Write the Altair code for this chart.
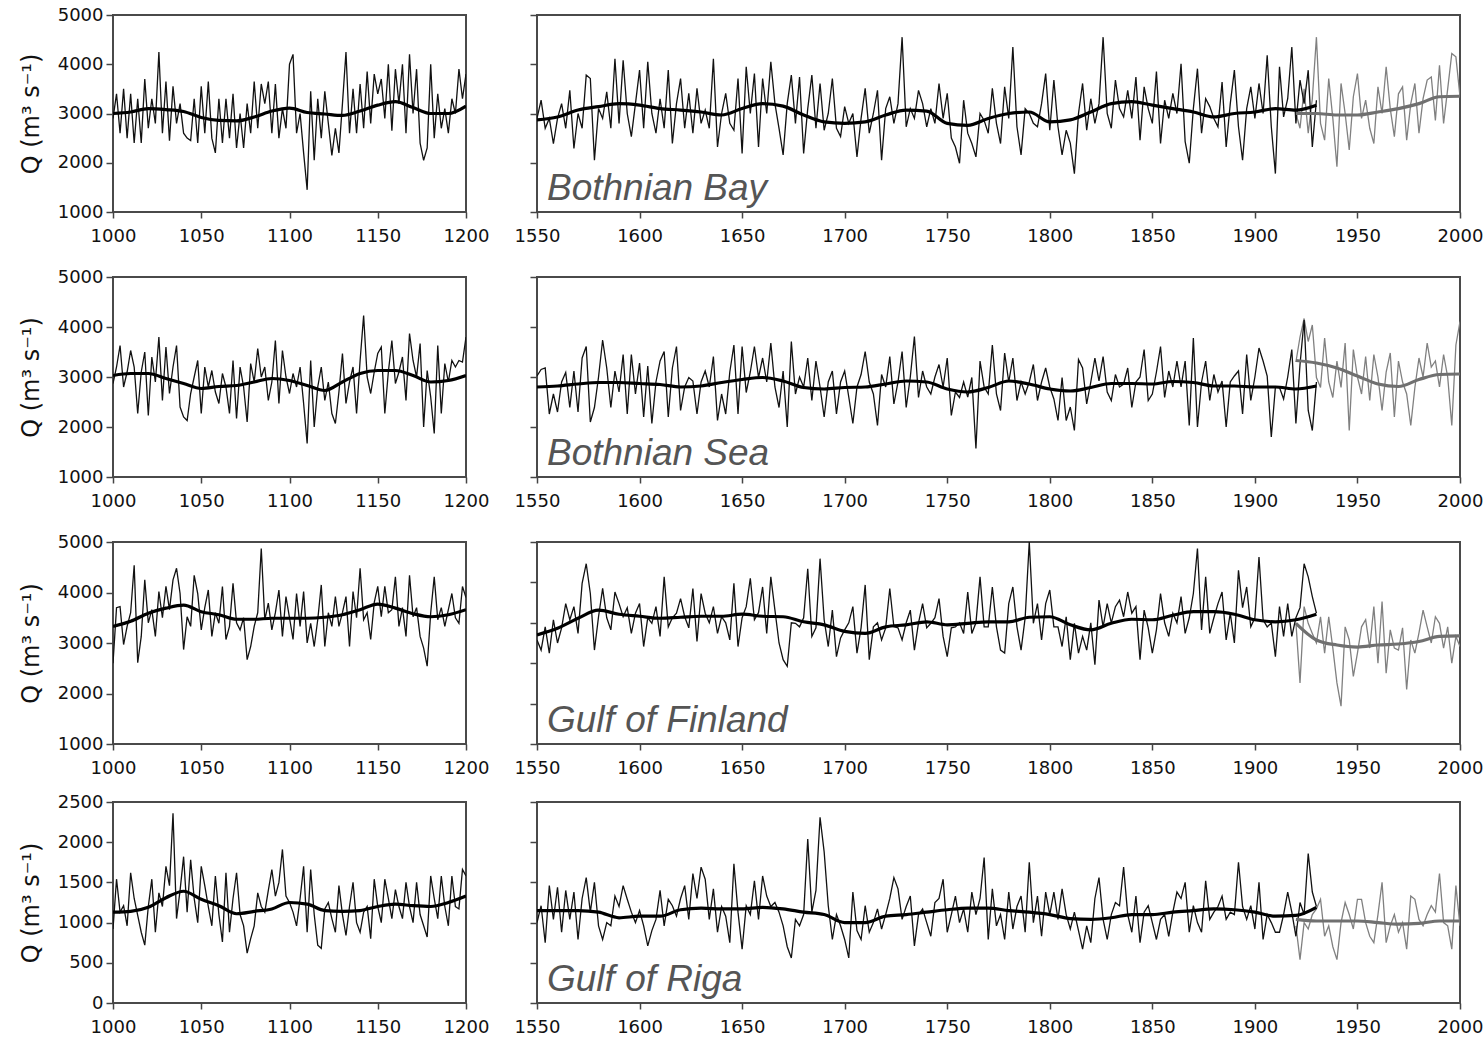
import altair as alt
import pandas as pd

FONT = "Liberation Sans"
AXFONT = "DejaVu Sans"

# ---------------- Bothnian Bay ----------------
BB_L = [2900, 3400, 2600, 3500, 2500, 3400, 2400, 3300, 2400, 3700,
        2700, 3300, 2800, 4250, 2600, 3650, 2450, 3550, 2800, 3200,
        2600, 2500, 2450, 3300, 2400, 3550, 2600, 3650, 2500, 2200,
        3300, 2400, 3300, 2500, 3400, 2300, 3000, 2300, 3200, 2600,
        3650, 2700, 3600, 3200, 3650, 2600, 3600, 2500, 3100, 2700,
        4000, 4200, 2600, 3000, 2200, 1450, 3450, 2050, 3300, 2500,
        3450, 2800, 2150, 2700, 2200, 3200, 4250, 2600, 3500, 2600,
        3600, 2700, 3850, 2800, 3800, 3400, 3700, 2900, 4000, 2650,
        3900, 3200, 4000, 2600, 4200, 3000, 3900, 2400, 2050, 2300,
        4000, 2500, 3400, 2700, 3100, 2600, 3300, 3000, 3900, 3300,
        3800]
BB_L_S = [3000, 3030, 3100, 3080, 3040, 2920, 2860, 2850, 2930, 3050, 3110,
          3020, 2990, 2960, 3050, 3170, 3240, 3120, 3000, 3000, 3150]
BB_R = [2900, 3270, 2700, 2900, 2390, 2900, 3200, 2700, 3470, 2290,
        3000, 2700, 3780, 3710, 2050, 3100, 2900, 3440, 2700, 4110,
        2800, 4080, 3000, 2530, 3200, 3880, 2700, 4050, 3000, 2600,
        3300, 2700, 3880, 2390, 3200, 3710, 2700, 3410, 2600, 3510,
        2800, 3070, 2700, 4110, 2320, 3000, 3410, 2800, 2660, 3710,
        2190, 3950, 3000, 3810, 2320, 3710, 3000, 4050, 3200, 2700,
        2160, 3200, 3780, 2800, 3740, 2190, 3100, 3780, 2700, 3610,
        2660, 3000, 3710, 2700, 2530, 3140, 2800, 3000, 2120, 2900,
        3510, 2600, 3000, 3470, 2050, 3100, 3340, 2800, 3200, 4550,
        2730, 3100, 2900, 3470, 3200, 2730, 3100, 2800, 3610, 2900,
        3410, 2500, 2320, 1990, 3270, 2600, 2390, 2120, 3000, 2860,
        2600, 3510, 2800, 2390, 3540, 2900, 4350, 2730, 2160, 3100,
        3000, 2800, 2730, 3200, 3810, 2660, 3680, 2730, 2160, 2660,
        2400, 1780, 3000, 3610, 2660, 3300, 2800, 3200, 4550, 3000,
        2700, 3680, 3100, 2930, 3470, 2900, 3740, 2460, 3540, 3100,
        2800, 3850, 2390, 3270, 2900, 3410, 3000, 4010, 2430, 1990,
        3100, 3910, 2600, 3300, 3140, 2900, 2730, 3640, 2320, 3200,
        3880, 2730, 2050, 3100, 3540, 2900, 3610, 3000, 4180, 2730,
        1780, 3950, 2930, 3300, 4350, 2800, 3680, 3200, 3880, 2320,
        3270]
BB_R_S = [2870, 2930, 3070, 3140, 3200, 3170, 3100, 3070, 3030, 2970,
          3100, 3200, 3150, 2970, 2830, 2800, 2830, 2970, 3070, 3050,
          2800, 2760, 2900, 3000, 3030, 2830, 2870, 3030, 3200, 3240,
          3170, 3100, 3030, 2930, 3000, 3030, 3100, 3070, 3170]
BB_G = [3000, 2700, 3500, 2600, 3300, 4550, 2800, 2460, 3710, 2900,
        1920, 3610, 3000, 2260, 3340, 3810, 2900, 3270, 2700, 2390,
        3540, 3000, 3950, 3100, 2530, 3400, 3540, 2460, 3200, 3610,
        2600, 3300, 3680, 3740, 2860, 3980, 2800, 3500, 4220, 4150,
        3340]
BB_G_S = [3000, 3000, 2970, 2970, 3030, 3100, 3200, 3340, 3350]

# ---------------- Bothnian Sea ----------------
BS_L = [2870, 3200, 3630, 2800, 3100, 3530, 3200, 2270, 3100, 3500,
        2230, 3400, 2900, 3800, 2530, 3600, 2670, 3200, 3630, 2400,
        2200, 2130, 2670, 3000, 3330, 2270, 3200, 2800, 3130, 2700,
        2470, 3070, 2800, 2270, 3330, 2170, 3200, 2800, 2100, 3270,
        2900, 3570, 3000, 3200, 2530, 2900, 3730, 2470, 3530, 3000,
        2670, 3070, 2800, 3200, 2470, 1670, 3330, 2000, 2800, 3200,
        2530, 2900, 2270, 2070, 2700, 3470, 2470, 2900, 3200, 2270,
        3330, 4230, 3000, 2670, 3100, 3470, 3600, 2270, 3100, 3730,
        2870, 3100, 3400, 2530, 3870, 3330, 3000, 3670, 2000, 3130,
        2600, 1870, 3630, 2270, 3270, 2900, 3330, 3200, 3330, 3300,
        3800]
BS_L_S = [3030, 3070, 3070, 2970, 2870, 2770, 2810, 2830, 2900, 2970, 2930,
          2830, 2730, 2900, 3070, 3130, 3130, 3030, 2900, 2930, 3030]
BS_R = [3020, 3150, 3180, 2260, 2660, 2300, 2900, 3090, 2390, 3120,
        2300, 3380, 3610, 2100, 2390, 3000, 3740, 3180, 2390, 3120,
        2700, 3450, 2260, 3450, 2660, 3280, 2200, 3220, 2070, 2900,
        3320, 3510, 2200, 3180, 3610, 2330, 2800, 2990, 2920, 2260,
        2900, 3120, 2800, 3410, 2130, 2660, 2260, 3100, 3640, 2260,
        3610, 2690, 3100, 3610, 2990, 3380, 2900, 3680, 2800, 2390,
        3120, 2000, 3710, 2660, 3000, 2800, 3380, 2530, 3320, 2800,
        2200, 2900, 3120, 2260, 2900, 3120, 2600, 2070, 2800, 3050,
        3510, 2900, 2660, 2030, 3050, 2800, 3410, 2460, 2900, 3510,
        2390, 3000, 3810, 2590, 3120, 2800, 2660, 3000, 3250, 2800,
        3380, 2230, 2700, 2590, 2900, 2600, 2990, 1570, 3320, 2800,
        2660, 3640, 2660, 2330, 3480, 2900, 3380, 2530, 2900, 2660,
        2900, 3250, 2530, 2900, 3180, 2800, 2560, 2130, 2990, 2130,
        2400, 1930, 3350, 3180, 2460, 2900, 3380, 2920, 3410, 2700,
        2530, 3050, 2800, 2860, 3180, 2390, 2900, 3000, 3550, 2530,
        2660, 3100, 3610, 2590, 3120, 2800, 3320, 2800, 3320, 2030,
        3780, 2000, 2900, 3320, 2530, 3050, 2700, 2920, 2000, 2900,
        3020, 3120, 2260, 3450, 2530, 3000, 3580, 3320, 3020, 1800,
        2800, 2790, 2560, 3000, 3550, 2070, 3250, 4140, 2330, 1930,
        2900]
BS_R_S = [2800, 2820, 2860, 2890, 2890, 2870, 2850, 2800, 2820, 2890,
          2950, 2990, 2920, 2790, 2760, 2790, 2800, 2860, 2920, 2900,
          2760, 2700, 2790, 2920, 2860, 2760, 2720, 2790, 2870, 2870,
          2860, 2910, 2890, 2820, 2820, 2800, 2800, 2760, 2820]
BS_G = [3300, 3800, 4170, 3710, 4040, 2990, 2790, 3780, 2900, 2590,
        3320, 2790, 3680, 1930, 3550, 3000, 2660, 3410, 2530, 3450,
        3000, 2330, 3100, 3480, 2200, 3320, 2900, 2660, 2030, 2790,
        3380, 3000, 3680, 3200, 3320, 2800, 3450, 3000, 2030, 3640,
        4110]
BS_G_S = [3330, 3280, 3180, 3020, 2860, 2810, 2950, 3050, 3060]

# ---------------- Gulf of Finland ----------------
GF_L = [2600, 3700, 3720, 2970, 3330, 3600, 4540, 2610, 3130, 4250,
        3400, 3660, 3130, 4020, 3500, 4120, 3660, 4250, 4480, 3980,
        2870, 3520, 3330, 4340, 3980, 3260, 3700, 4050, 3130, 3600,
        3390, 4120, 3070, 3330, 4180, 3400, 3260, 3500, 2670, 2930,
        3330, 3600, 4870, 3460, 3790, 3260, 3600, 4050, 3130, 3920,
        3500, 3070, 3980, 3330, 4020, 3000, 3390, 2930, 3460, 4150,
        2930, 3600, 3330, 3920, 3330, 3600, 3920, 2930, 4020, 3500,
        4480, 3460, 3600, 3070, 3800, 4120, 3520, 4120, 3600, 3660,
        4310, 3330, 3700, 3130, 4340, 3520, 3700, 3130, 2900, 2540,
        3600, 4310, 3460, 3700, 3330, 3660, 3980, 3500, 3390, 4120,
        3900]
GF_L_S = [3330, 3430, 3590, 3690, 3750, 3620, 3560, 3470, 3470, 3490, 3490,
          3490, 3510, 3560, 3660, 3770, 3690, 3580, 3520, 3560, 3660]
GF_R = [3060, 2860, 3320, 2800, 3460, 3000, 3300, 3780, 3460, 3720,
        3190, 4180, 4570, 3980, 2860, 3520, 4080, 3500, 3260, 4010,
        3780, 3520, 3700, 3190, 3590, 3780, 2930, 3500, 3390, 3720,
        3130, 4310, 3320, 3500, 3590, 3880, 3520, 3300, 4080, 3030,
        3980, 3590, 3400, 3720, 3190, 3520, 3400, 3060, 4180, 2930,
        3500, 3720, 4280, 3460, 3600, 4110, 3190, 4310, 3650, 3000,
        2670, 2540, 3400, 3390, 3320, 3500, 4470, 3130, 3300, 4670,
        3460, 2930, 3650, 2730, 3100, 3260, 3400, 3720, 2800, 3300,
        4150, 2670, 3320, 3400, 3060, 3300, 4080, 3320, 3300, 3060,
        3400, 3650, 2860, 3400, 3780, 3300, 3390, 3500, 3880, 3130,
        2730, 3300, 3320, 3400, 3190, 4010, 3190, 3400, 4310, 3320,
        3320, 4110, 3320, 2860, 2800, 3780, 4110, 3320, 2860, 3500,
        5000, 3390, 3780, 3060, 3780, 4050, 3320, 3320, 2930, 3520,
        2670, 3390, 2800, 3130, 2860, 3400, 2570, 3850, 3320, 3780,
        3400, 3720, 3850, 3520, 4010, 3590, 3720, 2670, 3650, 3300,
        2800, 3260, 3980, 3400, 3130, 3590, 3400, 3920, 3190, 3500,
        3980, 4870, 3260, 4310, 3190, 3500, 3780, 4010, 3060, 3590,
        3000, 4440, 3700, 4110, 3320, 3500, 4700, 3460, 3320, 3400,
        2730, 3720, 3130, 3780, 3130, 3500, 3700, 4570, 4310, 3920,
        3590]
GF_R_S = [3160, 3290, 3490, 3650, 3570, 3530, 3490, 3510, 3530, 3530,
          3570, 3530, 3520, 3420, 3360, 3230, 3190, 3320, 3360, 3420,
          3360, 3390, 3420, 3420, 3510, 3520, 3360, 3260, 3390, 3470,
          3460, 3550, 3620, 3620, 3570, 3460, 3420, 3460, 3570]
GF_G = [3400, 2210, 3720, 3390, 3190, 3000, 3520, 2800, 3520, 2900,
        2210, 1750, 3320, 3060, 2340, 2800, 3320, 3460, 2900, 3720,
        2600, 3820, 2400, 3260, 2900, 2860, 3300, 2080, 3060, 2800,
        3200, 3650, 3320, 3000, 3520, 3390, 2900, 3320, 2600, 3130,
        2930]
GF_G_S = [3390, 3060, 2960, 2920, 2960, 2980, 3030, 3130, 3140]

# ---------------- Gulf of Riga ----------------
GR_L = [920, 1540, 1130, 1210, 960, 1620, 1300, 1090, 880, 720,
        1200, 1540, 880, 1370, 1200, 1700, 1460, 2360, 1050, 1400,
        1820, 1130, 1780, 1300, 1000, 1700, 1460, 1200, 960, 1580,
        1100, 760, 1620, 880, 1300, 1620, 1100, 960, 620, 800,
        960, 1370, 1200, 1130, 1400, 1660, 1330, 1500, 1910, 1330,
        1250, 1130, 960, 1300, 1700, 880, 1660, 1100, 720, 680,
        1170, 1250, 1050, 880, 1460, 1100, 840, 1200, 1500, 1000,
        880, 1130, 1200, 800, 1540, 1200, 1000, 1540, 1300, 1050,
        1410, 1200, 1050, 1500, 1200, 1000, 1500, 1100, 960, 820,
        1580, 1300, 1050, 1580, 1200, 960, 1580, 1200, 1170, 1660,
        1580]
GR_L_S = [1130, 1140, 1190, 1310, 1390, 1290, 1210, 1110, 1140, 1170, 1250,
          1230, 1150, 1140, 1150, 1200, 1230, 1210, 1200, 1250, 1330]
GR_R = [1000, 1210, 750, 1460, 1040, 1440, 880, 1400, 1040, 1380,
        790, 1300, 1560, 1130, 1500, 960, 790, 1000, 960, 1330,
        1200, 1460, 1290, 1130, 1000, 1150, 960, 710, 900, 1040,
        1400, 960, 1290, 1210, 1080, 1300, 1460, 1040, 1610, 1300,
        1690, 1540, 1040, 1420, 880, 1200, 1080, 750, 1730, 1130,
        670, 1210, 1100, 1520, 1040, 1580, 1330, 1200, 1250, 1130,
        960, 700, 560, 1040, 960, 1100, 2040, 1130, 1400, 2310,
        1880, 1210, 790, 1100, 960, 790, 560, 1380, 900, 790,
        1210, 880, 1000, 1170, 920, 1100, 1300, 1560, 1420, 1040,
        1200, 1330, 710, 1100, 1170, 1000, 830, 1250, 1300, 1540,
        880, 1100, 1330, 1000, 1170, 880, 1380, 1100, 1300, 1810,
        790, 1420, 960, 1100, 790, 1380, 920, 1200, 1330, 880,
        1750, 1000, 1330, 830, 1380, 1100, 1380, 1040, 1420, 1100,
        920, 1130, 900, 670, 960, 750, 1300, 1560, 1040, 790,
        1100, 1250, 1210, 1690, 1100, 880, 1330, 750, 1130, 1210,
        1000, 790, 1040, 1100, 830, 1130, 1380, 1300, 1500, 880,
        1210, 1000, 880, 1520, 1040, 1130, 1200, 1330, 1040, 1130,
        1100, 1750, 1200, 1040, 1210, 920, 1500, 790, 1100, 1000,
        880, 880, 1100, 1380, 1130, 830, 1250, 1100, 1860, 1380,
        1200]
GR_R_S = [1150, 1150, 1150, 1130, 1060, 1080, 1080, 1160, 1180, 1170,
          1170, 1190, 1170, 1130, 1100, 1000, 1000, 1080, 1100, 1130,
          1160, 1180, 1180, 1150, 1130, 1100, 1050, 1040, 1060, 1100,
          1100, 1130, 1150, 1170, 1160, 1130, 1080, 1090, 1190]
GR_G = [960, 540, 1000, 920, 1100, 1170, 1290, 830, 960, 700,
        540, 1000, 1250, 1100, 920, 1290, 1290, 1000, 830, 750,
        1100, 1500, 750, 960, 1100, 880, 1000, 670, 1330, 1290,
        1040, 960, 1100, 1210, 1130, 1610, 1000, 960, 670, 1460,
        960]
GR_G_S = [1040, 1020, 1020, 1020, 1000, 980, 990, 1020, 1020]

LABELS = ["Bothnian Bay", "Bothnian Sea", "Gulf of Finland", "Gulf of Riga"]
YTITLE = "Q (m³ s⁻¹)"

BLACK = "#111111"
GREY = "#808080"
GREY_S = "#707070"


def series(start, step, vals):
    return pd.DataFrame({"year": list(range(start, start + step * len(vals), step)), "q": vals})


def panel(kind, width, height, ydom, yticks, layers, label=None):
    if kind == "L":
        xdom, xticks = [1000, 1200], list(range(1000, 1201, 50))
    else:
        xdom, xticks = [1550, 2000], list(range(1550, 2001, 50))
    xenc = alt.X("year:Q", scale=alt.Scale(domain=xdom, nice=False, zero=False),
                 axis=alt.Axis(values=xticks, format="d", title=None, grid=False, domain=False,
                               tickSize=6, labelPadding=9, labelFontSize=18, labelFlush=False))
    if kind == "L":
        yaxis = alt.Axis(values=yticks, format="d", title=YTITLE, grid=False, domain=False, tickSize=7,
                         labelFontSize=18, labelPadding=3, titleFontSize=24, titlePadding=14)
    else:
        yaxis = alt.Axis(values=yticks, title=None, labels=False, grid=False, domain=False, tickSize=7)
    yenc = alt.Y("q:Q", scale=alt.Scale(domain=ydom, nice=False, zero=False), axis=yaxis)
    charts = []
    for df, color, w, smooth in layers:
        mk = alt.Chart(df).mark_line(color=color, strokeWidth=w, clip=True,
                                     interpolate="monotone" if smooth else "linear")
        charts.append(mk.encode(x=xenc, y=yenc))
    if label:
        charts.append(
            alt.Chart(pd.DataFrame({"t": [label]})).mark_text(
                font=FONT, fontSize=37, fontStyle="italic", color="#555555",
                align="left", baseline="alphabetic"
            ).encode(x=alt.value(10), y=alt.value(height - 12), text="t:N")
        )
    return alt.layer(*charts).properties(width=width, height=height)


LW, RW = 353, 923
HEIGHTS = [197, 200, 202, 201]

rows_spec = [
    (BB_L, BB_L_S, BB_R, BB_R_S, BB_G, BB_G_S, [1000, 5000], list(range(1000, 5001, 1000)),
     list(range(1000, 5001, 1000))),
    (BS_L, BS_L_S, BS_R, BS_R_S, BS_G, BS_G_S, [1000, 5000], list(range(1000, 5001, 1000)),
     list(range(1000, 5001, 1000))),
    (GF_L, GF_L_S, GF_R, GF_R_S, GF_G, GF_G_S, [1000, 5000], list(range(1000, 5001, 1000)),
     list(range(1000, 5001, 800))),
    (GR_L, GR_L_S, GR_R, GR_R_S, GR_G, GR_G_S, [0, 2500], list(range(0, 2501, 500)),
     list(range(0, 2501, 500))),
]

rows = []
for i, (l, ls, r, rs, g, gs, ydom, lticks, rticks) in enumerate(rows_spec):
    h = HEIGHTS[i]
    left = panel("L", LW, h, ydom, lticks, [
        (series(1000, 2, l), BLACK, 1.3, False),
        (series(1000, 10, ls), "#000000", 3.2, True),
    ])
    right = panel("R", RW, h, ydom, rticks, [
        (series(1920, 2, g), GREY, 1.3, False),
        (series(1550, 2, r), BLACK, 1.3, False),
        (series(1920, 10, gs), GREY_S, 3.2, True),
        (series(1550, 10, rs), "#000000", 3.2, True),
    ], label=LABELS[i])
    rows.append(alt.hconcat(left, right, spacing=23))

upper = alt.vconcat(rows[0], rows[1], rows[2], spacing=21)
chart = alt.vconcat(upper, rows[3], spacing=14).properties(
    padding={"left": 18, "top": 5, "right": 0, "bottom": -2},
    background="white",
).configure_view(
    stroke="#4a4a4a", strokeWidth=2
).configure_axis(
    labelFont=AXFONT, titleFont=AXFONT, labelColor="#111111", titleColor="#111111",
    tickColor="#444444", tickWidth=1.5, titleFontWeight="normal"
)

chart.save("out.html", embed_options={"renderer": "svg", "actions": False})
